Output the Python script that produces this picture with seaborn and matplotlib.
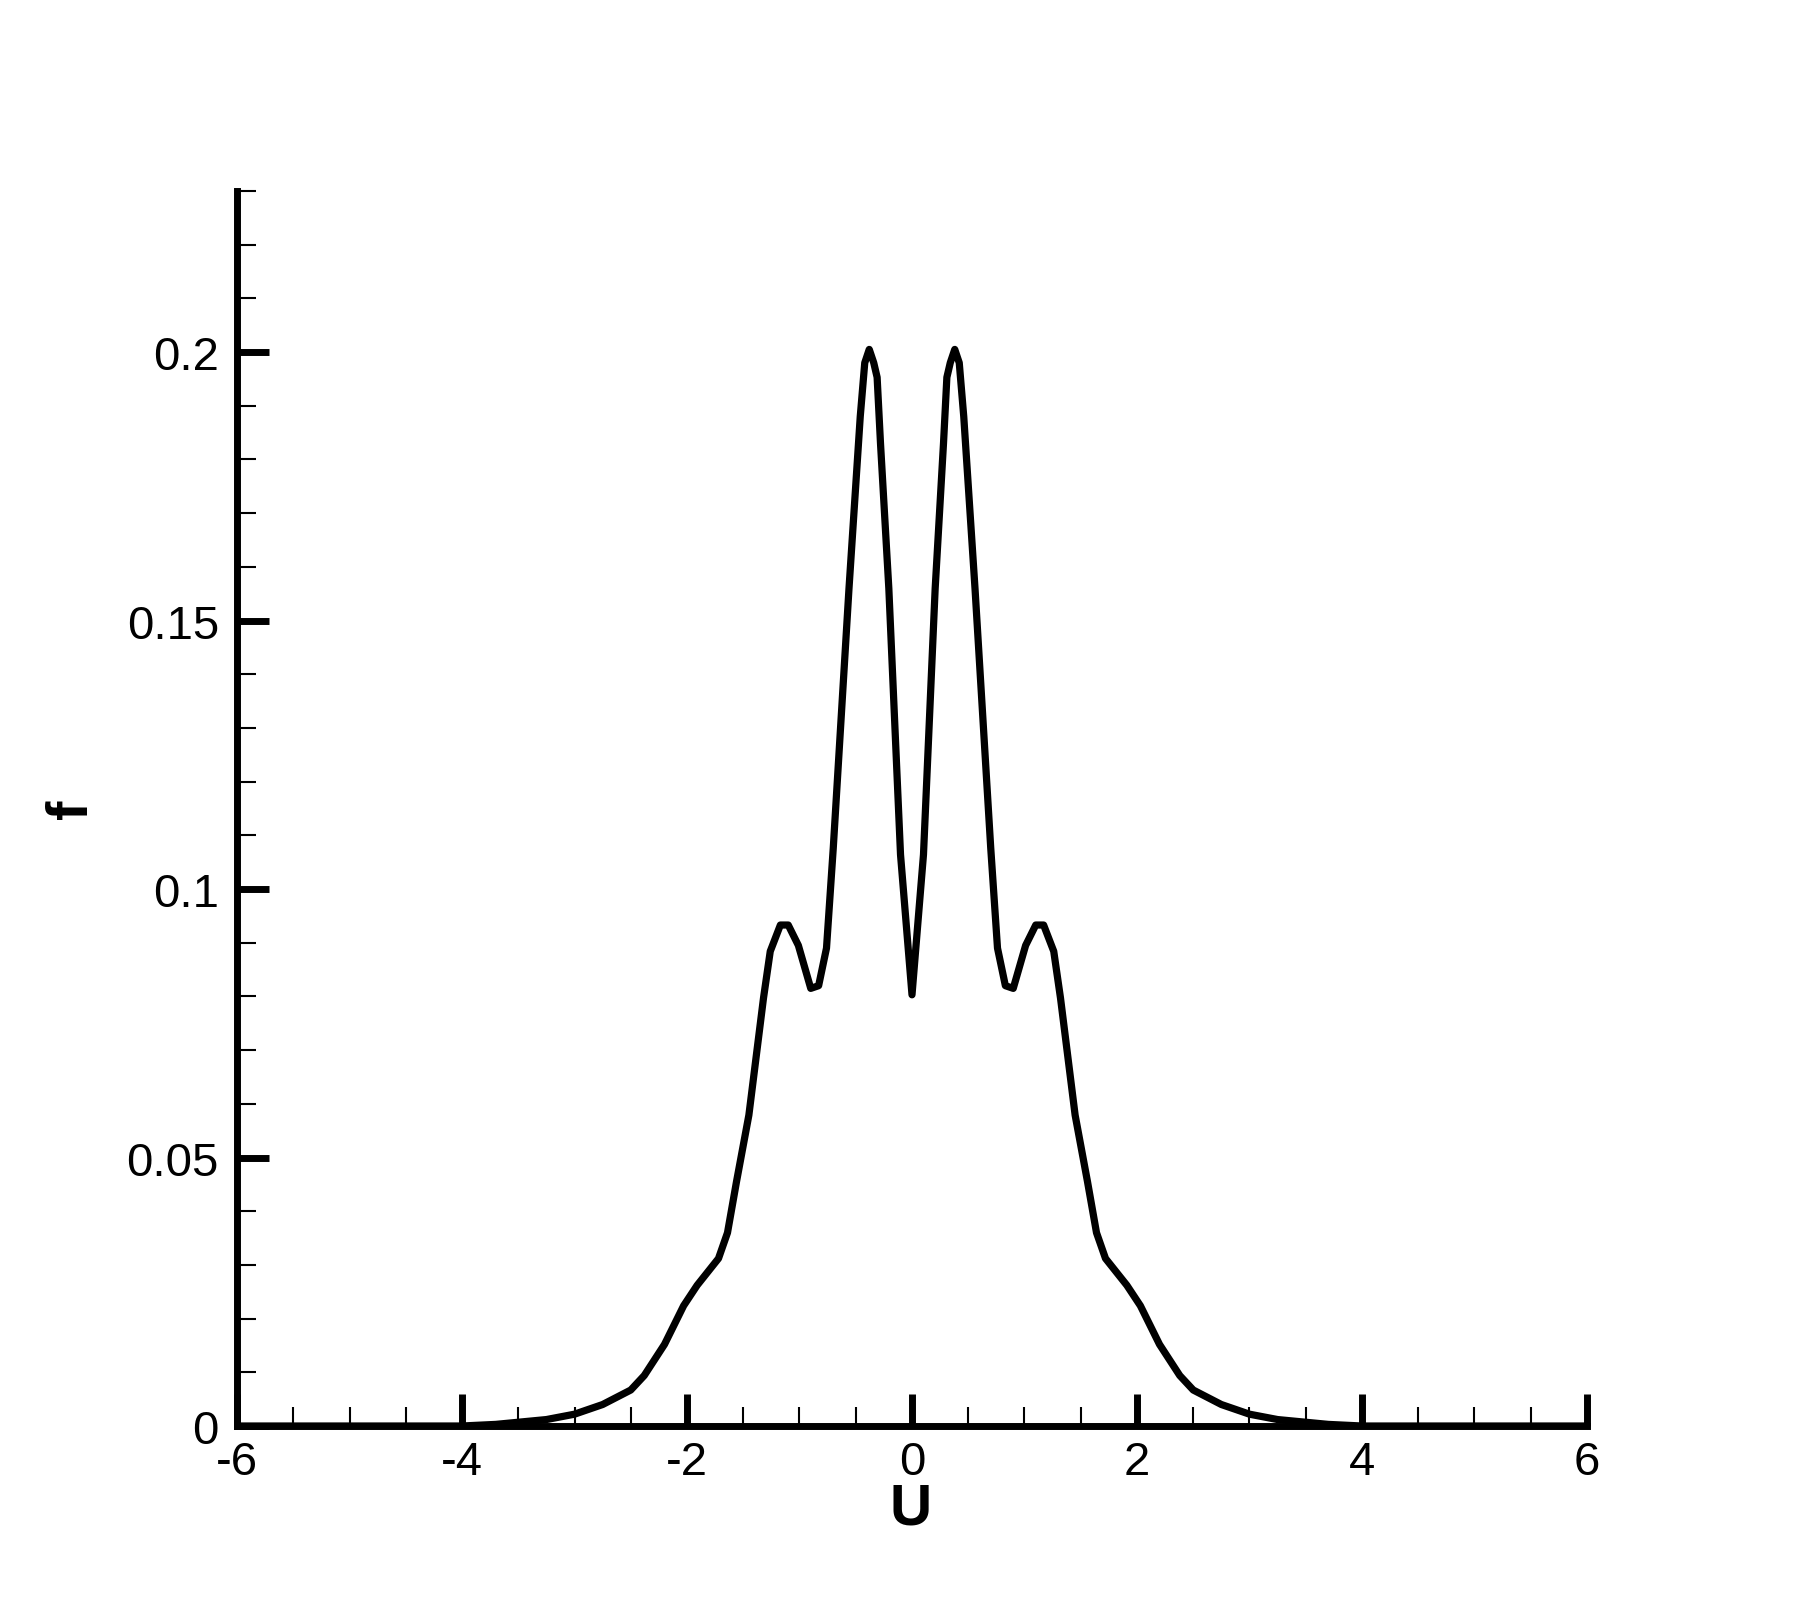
import matplotlib
matplotlib.use("Agg")
import matplotlib.pyplot as plt
from matplotlib.ticker import MultipleLocator, FixedLocator
import seaborn as sns
import pandas as pd

# ---- data ----
U_values = [-6.0, -4.0, -3.7, -3.5, -3.25, -3.0, -2.75, -2.5, -2.38, -2.2,
            -2.03, -1.91, -1.72, -1.64, -1.56, -1.45, -1.32, -1.26, -1.17,
            -1.10, -1.01, -0.90, -0.83, -0.76, -0.70, -0.56, -0.46, -0.42,
            -0.38, -0.34, -0.31, -0.28, -0.206, -0.102, 0.0,
            0.102, 0.206, 0.28, 0.31, 0.34, 0.38, 0.42, 0.46, 0.56, 0.70,
            0.76, 0.83, 0.90, 1.01, 1.10, 1.17, 1.26, 1.32, 1.45, 1.56,
            1.64, 1.72, 1.91, 2.03, 2.2, 2.38, 2.5, 2.75, 3.0, 3.25, 3.5,
            3.7, 4.0, 6.0]
f_values = [0.0, 0.0, 0.0003, 0.0007, 0.0012, 0.0022, 0.0040, 0.0067, 0.0094, 0.0152,
            0.0224, 0.0262, 0.0312, 0.0360, 0.0455, 0.0579, 0.0797, 0.0884, 0.0933,
            0.0933, 0.0895, 0.0815, 0.0820, 0.0890, 0.1076, 0.1560, 0.1880, 0.1980,
            0.2005, 0.1980, 0.1953, 0.1830, 0.1560, 0.1064, 0.0803,
            0.1064, 0.1560, 0.1830, 0.1953, 0.1980, 0.2005, 0.1980, 0.1880, 0.1560, 0.1076,
            0.0890, 0.0820, 0.0815, 0.0895, 0.0933, 0.0933, 0.0884, 0.0797, 0.0579, 0.0455,
            0.0360, 0.0312, 0.0262, 0.0224, 0.0152, 0.0094, 0.0067, 0.0040, 0.0022, 0.0012, 0.0007,
            0.0003, 0.0, 0.0]

x_ticks = [-6, -4, -2, 0, 2, 4, 6]
x_tick_labels = ["-6", "-4", "-2", "0", "2", "4", "6"]
y_ticks = [0, 0.05, 0.1, 0.15, 0.2]
y_tick_labels = ["0", "0.05", "0.1", "0.15", "0.2"]
x_label = "U"
y_label = "f"

df = pd.DataFrame({"U": U_values, "f": f_values})

sns.set_theme(style="white")
plt.rcParams["font.family"] = ["Liberation Sans", "DejaVu Sans"]

fig = plt.figure(figsize=(18.06, 16.06), dpi=100)
ax = fig.add_axes([237 / 1806, 1 - 1427 / 1606, 1350 / 1806, 1235 / 1606])

sns.lineplot(data=df, x="U", y="f", ax=ax, color="black", linewidth=5.2,
             sort=False, estimator=None)

ax.set_xlim(-6, 6)
ax.set_ylim(0, 0.23)

for s in ["top", "right"]:
    ax.spines[s].set_visible(False)
for s in ["left", "bottom"]:
    ax.spines[s].set_linewidth(5)
    ax.spines[s].set_color("black")
    ax.spines[s].set_capstyle("projecting")

ax.xaxis.set_major_locator(FixedLocator(x_ticks))
ax.set_xticklabels(x_tick_labels)
ax.yaxis.set_major_locator(FixedLocator(y_ticks))
ax.set_yticklabels(y_tick_labels)
ax.xaxis.set_minor_locator(MultipleLocator(0.5))
ax.yaxis.set_minor_locator(MultipleLocator(0.01))

ax.tick_params(which="major", direction="in", length=23, width=5, color="black",
               labelsize=34, labelcolor="black")
ax.tick_params(axis="x", which="major", pad=10)
ax.tick_params(axis="y", which="major", pad=13)
ax.tick_params(which="minor", direction="in", length=14, width=1.5, color="black")
ax.tick_params(bottom=True, left=True, top=False, right=False, which="both")

ax.set_xlabel(x_label, fontsize=42, fontweight="bold", color="black")
ax.set_ylabel(y_label, fontsize=42, fontweight="bold", color="black")
ax.xaxis.label.set_va("center")
ax.yaxis.label.set_va("center")
ax.xaxis.set_label_coords(0.4993, -0.0672)
ax.yaxis.set_label_coords(-0.1222, 0.5)

ax.grid(False)
ax.set_facecolor("white")
fig.patch.set_facecolor("white")

fig.savefig("out.png", dpi=100)
